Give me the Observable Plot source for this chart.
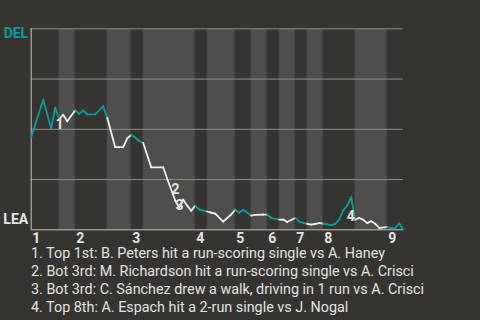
<!DOCTYPE html>
<html><head><meta charset="utf-8">
<script src="https://cdn.jsdelivr.net/npm/d3@7"></script>
<script src="https://cdn.jsdelivr.net/npm/@observablehq/plot@0.6"></script>
<style>
html,body{margin:0;padding:0;background:#363430;}
body{width:480px;height:320px;overflow:hidden;font-family:Roboto,"Noto Sans",sans-serif;}
#chart svg{display:block;overflow:visible;}
#cap{color:#e2e2e2;font-size:14.35px;line-height:18px;padding-left:31px;padding-top:0.5px;white-space:nowrap;}
</style></head>
<body><div id="chart"></div><div id="cap"></div>
<script>
// play index along the game (x) and DEL win probability (y)
const playIdx = [0,3,5,6,7,8,9,10,11,12,
  13,14,16,18,19,21,23,24,25,26,
  27,28,30,33,34,36,37,38,39,40,
  41,42,43,44,45,46,48,50,51,52,
  53,55,56,58,59,60,62,63,64,66,
  67,68,69,70,71,72,73,75,76,77,
  78,79,80,81,82,83,84,85,86,87,
  89,90,91,92,93];
const delWinProb = [0.46,0.647,0.504,0.608,0.55,0.572,0.54,0.567,0.594,0.577,
  0.594,0.574,0.574,0.615,0.557,0.411,0.411,0.455,0.472,0.459,
  0.442,0.432,0.311,0.311,0.254,0.146,0.11,0.15,0.12,0.095,
  0.12,0.10,0.096,0.091,0.085,0.08,0.041,0.076,0.10,0.085,
  0.10,0.071,0.074,0.076,0.075,0.059,0.051,0.051,0.039,0.059,
  0.041,0.034,0.03,0.026,0.03,0.033,0.031,0.023,0.029,0.051,
  0.096,0.121,0.162,0.05,0.059,0.05,0.033,0.043,0.03,0.01,
  0.013,0.01,0.008,0.033,0.0];
// start play of each half-inning (top 1, bot 1, top 2, ...), last play
const halfStarts = [0,7,11,19,25,28,41,44,51,55,59,62,66,69,73,81,89];
const lastPlay = 93;
const inningLabels = ["1","2","3","4","5","6","7","8","9"];
const teamTop = "DEL";
const teamBottom = "LEA";
const gridValues = [0.25,0.5,0.75,1];
// key events
const eventLabels = ["1","2","3","4"];
const eventPlay = [7.1,36.1,37.1,79.9];
const eventProb = [0.525,0.2,0.123,0.065];
const captions = [
  "1. Top 1st: B. Peters hit a run-scoring single vs A. Haney",
  "2. Bot 3rd: M. Richardson hit a run-scoring single vs A. Crisci",
  "3. Bot 3rd: C. Sánchez drew a walk, driving in 1 run vs A. Crisci",
  "4. Top 8th: A. Espach hit a 2-run single vs J. Nogal"
];

const teal = "#0b9c9c", white = "#f2f2f2", textCol = "#e4e4e4";
const halves = halfStarts.map((s, i) => ({x1: s, x2: i + 1 < halfStarts.length ? halfStarts[i + 1] : lastPlay, top: i % 2 === 0}));
const bottoms = halves.filter(h => !h.top);
const innings = halves.filter(h => h.top).map((h, i) => ({x: h.x1, label: inningLabels[i]}));
function halfOf(x) { let h = halves[0]; for (const hh of halves) if (x >= hh.x1) h = hh; return h; }
const segs = [];
for (let i = 0; i < playIdx.length - 1; i++) {
  const mid = (playIdx[i] + playIdx[i + 1]) / 2;
  segs.push({x1: playIdx[i], y1: delWinProb[i], x2: playIdx[i + 1], y2: delWinProb[i + 1], top: halfOf(mid).top});
}
const events = eventLabels.map((l, i) => ({label: l, x: eventPlay[i], y: eventProb[i]}));

const chart = Plot.plot({
  width: 480, height: 244,
  marginLeft: 30.7, marginRight: 77.3, marginTop: 28.3, marginBottom: 14.7,
  style: {background: "#363430", fontFamily: "Roboto, sans-serif", overflow: "visible"},
  x: {domain: [0, lastPlay], axis: null},
  y: {domain: [0, 1], axis: null},
  marks: [
    Plot.rect(bottoms, {x1: "x1", x2: "x2", y1: 0, y2: 1, fill: "#4f4e4c"}),
    Plot.ruleY(gridValues, {x1: 0, x2: lastPlay, stroke: "#8c8b89", strokeWidth: 1}),
    Plot.ruleX([0], {y1: 0, y2: 1, stroke: "#c4c4c2", strokeWidth: 1}),
    Plot.ruleY([0], {x1: 0, x2: lastPlay, stroke: "#c4c4c2", strokeWidth: 1}),
    Plot.link(segs, {x1: "x1", y1: "y1", x2: "x2", y2: "y2", stroke: d => d.top ? teal : white, strokeWidth: 1.8, strokeLinecap: "round"}),
    Plot.text(events, {x: "x", y: "y", text: "label", fill: textCol, fontSize: 14, fontWeight: "bold", lineAnchor: "middle"}),
    Plot.text(innings, {x: "x", y: 0, text: "label", fill: textCol, fontSize: 14, fontWeight: "bold", textAnchor: "start", lineAnchor: "top", dx: 1, dy: 3}),
    Plot.text([teamTop], {x: 0, y: 1, text: d => d, fill: teal, fontSize: 14, fontWeight: "bold", textAnchor: "end", lineAnchor: "middle", dx: -3, dy: 5}),
    Plot.text([teamBottom], {x: 0, y: 0, text: d => d, fill: textCol, fontSize: 14, fontWeight: "bold", textAnchor: "end", lineAnchor: "middle", dx: -3, dy: -10})
  ]
});
document.getElementById("chart").appendChild(chart);
const cap = document.getElementById("cap");
captions.forEach(c => { const d = document.createElement("div"); d.textContent = c; cap.appendChild(d); });
</script>
</body></html>
